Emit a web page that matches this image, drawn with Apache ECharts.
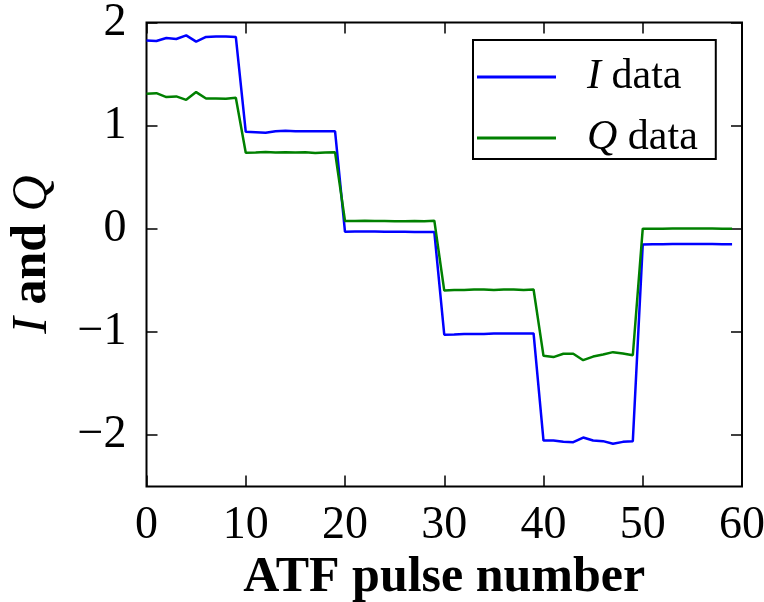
<!DOCTYPE html>
<html><head><meta charset="utf-8">
<script src="https://cdn.jsdelivr.net/npm/echarts@6/dist/echarts.min.js"></script>
<style>html,body{margin:0;padding:0;background:#fff}#c{width:764px;height:602px}</style>
</head><body><div id="c"></div>
<script>
const pulses = Array.from({length:60},(_,i)=>i);
const iData = [1.825,1.82,1.85,1.84,1.875,1.815,1.86,1.865,1.865,1.86,
 0.94,0.935,0.93,0.945,0.95,0.945,0.945,0.945,0.945,0.945,
 -0.03,-0.028,-0.028,-0.028,-0.03,-0.03,-0.03,-0.032,-0.032,-0.032,
 -1.028,-1.025,-1.02,-1.02,-1.02,-1.015,-1.015,-1.015,-1.015,-1.015,
 -2.054,-2.054,-2.067,-2.07,-2.025,-2.054,-2.06,-2.086,-2.067,-2.06,
 -0.152,-0.15,-0.15,-0.148,-0.148,-0.148,-0.148,-0.148,-0.15,-0.15];
const qData = [1.309,1.315,1.277,1.283,1.25,1.325,1.263,1.263,1.26,1.27,
 0.737,0.74,0.745,0.74,0.742,0.74,0.742,0.735,0.74,0.741,
 0.075,0.075,0.077,0.075,0.075,0.073,0.072,0.075,0.072,0.078,
 -0.6,-0.595,-0.595,-0.59,-0.59,-0.595,-0.59,-0.59,-0.595,-0.59,
 -1.233,-1.245,-1.213,-1.213,-1.275,-1.24,-1.22,-1.197,-1.21,-1.227,
 0.0,0.0,0.0,0.002,0.002,0.002,0.002,0.002,0.0,0.0];
const xTicks = [0,10,20,30,40,50,60];
const yTicks = [-2,-1,0,1,2];
const seriesNames = ['I data','Q data'];

const FONT = 'Liberation Serif';
const fmt = v => v < 0 ? '\u2212' + (-v) : String(v);
const chart = echarts.init(document.getElementById('c'));
const tickStyle = {show:true, inside:true, length:11, lineStyle:{color:'#000', width:1.5}};
chart.setOption({
  animation:false,
  grid:{left:146.5, right:22, top:22.5, bottom:115.5, containLabel:false, outerBoundsMode:'none',
    show:true, borderColor:'#000', borderWidth:2, backgroundColor:'transparent'},
  xAxis:[{type:'value', min:0, max:60, position:'bottom',
    name:'ATF pulse number', nameLocation:'middle', nameGap:66,
    nameTextStyle:{fontFamily:FONT, fontSize:50, fontWeight:'bold', color:'#000'},
    axisLine:{show:false, onZero:false}, splitLine:{show:false},
    axisTick:Object.assign({customValues:xTicks}, tickStyle),
    axisLabel:{customValues:xTicks, fontFamily:FONT, fontSize:46, color:'#000', margin:16, formatter:fmt}},
   {type:'value', min:0, max:60, position:'top',
    axisLine:{show:false, onZero:false}, splitLine:{show:false},
    axisTick:Object.assign({customValues:xTicks}, tickStyle), axisLabel:{show:false}}],
  yAxis:[{type:'value', min:-2.5, max:2, position:'left',
    name:'{i|I} and {i|Q}', nameLocation:'middle', nameGap:89, nameRotate:90,
    nameTextStyle:{fontFamily:FONT, fontSize:50, fontWeight:'bold', color:'#000',
      rich:{i:{fontFamily:FONT, fontSize:50, fontStyle:'italic', fontWeight:'normal', color:'#000'}}},
    axisLine:{show:false, onZero:false}, splitLine:{show:false},
    axisTick:Object.assign({customValues:yTicks}, tickStyle),
    axisLabel:{customValues:yTicks, fontFamily:FONT, fontSize:46, color:'#000', margin:20, formatter:fmt}},
   {type:'value', min:-2.5, max:2, position:'right',
    axisLine:{show:false, onZero:false}, splitLine:{show:false},
    axisTick:Object.assign({customValues:yTicks}, tickStyle), axisLabel:{show:false}}],
  legend:{left:473, top:40, orient:'vertical', borderColor:'#000', borderWidth:2,
    padding:[16,18,0,4], itemWidth:79, itemHeight:3, itemGap:19, backgroundColor:'#fff',
    icon:'rect',
    formatter: n => n === 'I data' ? '{i|I} data' : '{i|Q} data',
    textStyle:{fontFamily:FONT, fontSize:42, color:'#000', padding:[0,0,0,26],
      rich:{i:{fontFamily:FONT, fontSize:42, fontStyle:'italic', color:'#000'}}}},
  series:[
    {name:seriesNames[0], type:'line', data:pulses.map((x,k)=>[x,iData[k]]), symbol:'none',
     lineStyle:{color:'#0000ff', width:2.5}, itemStyle:{color:'#0000ff'}},
    {name:seriesNames[1], type:'line', data:pulses.map((x,k)=>[x,qData[k]]), symbol:'none',
     lineStyle:{color:'#008000', width:2.5}, itemStyle:{color:'#008000'}}
  ]
});
</script></body></html>
